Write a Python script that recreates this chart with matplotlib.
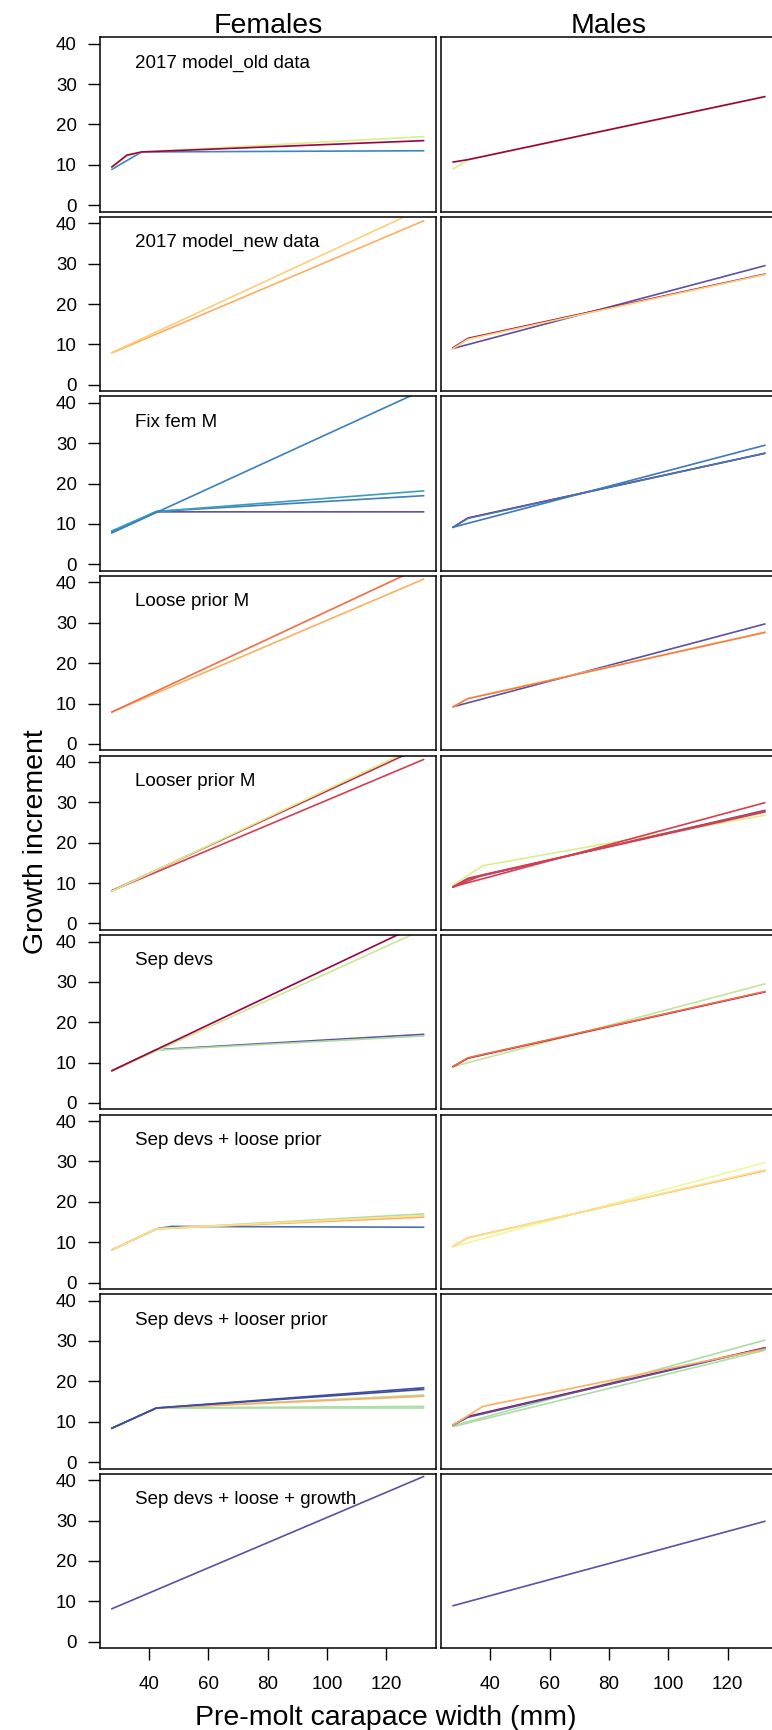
import matplotlib
matplotlib.use("Agg")
import matplotlib.pyplot as plt

plt.rcParams['font.family'] = ['Liberation Sans', 'DejaVu Sans']

# labels
scenarios = ['2017 model_old data', '2017 model_new data', 'Fix fem M', 'Loose prior M',
             'Looser prior M', 'Sep devs', 'Sep devs + loose prior',
             'Sep devs + looser prior', 'Sep devs + loose + growth']
sexes = ['Females', 'Males']
xticks = [40, 60, 80, 100, 120]
yticks = [0, 10, 20, 30, 40]

# size bins where the growth curves bend (mm)
x_lin = [27.5, 132.5]
x_k32 = [27.5, 32.5, 132.5]
x_k37 = [27.5, 37.5, 132.5]
x_k42 = [27.5, 42.5, 132.5]
x_old = [27.5, 32.5, 37.5, 132.5]
x_k47 = [27.5, 42.5, 47.5, 132.5]

# colours (Spectral-like)
maroon = '#9E0142'
red = '#D53E4F'
orange = '#F46D43'
lorange = '#FDAE61'
yellow = '#FDCF7A'
ygreen = '#D9EF8B'
lgreen = '#ABDDA4'
blue = '#3A86C0'
purple = '#5E4FA2'

# females, one list per scenario: x grid, increments, colours
f1_x = [x_k37, x_old, x_old]
f1_y = [[8.9, 13.2, 13.5], [9.3, 12.2, 13.2, 17.0], [9.5, 12.4, 13.2, 16.0]]
f1_c = [blue, ygreen, maroon]

f2_x = [x_lin, x_lin]
f2_y = [[7.9, 40.6], [8.0, 43.8]]
f2_c = [lorange, yellow]

f3_x = [x_k42, x_k42, x_k42, x_lin]
f3_y = [[7.9, 13.0, 13.0], [8.0, 13.1, 17.0], [8.3, 13.1, 18.2], [7.8, 43.2]]
f3_c = [purple, '#3F7DBE', '#3A9DC0', '#3C7FBF']

f4_x = [x_lin, x_lin]
f4_y = [[7.9, 40.8], [7.9, 44.0]]
f4_c = [lorange, orange]

f5_x = [x_lin, x_lin, x_lin]
f5_y = [[8.1, 43.9], [8.1, 40.6], [8.0, 44.5]]
f5_c = ['#C42A4A', red, ygreen]

f6_x = [x_k42, x_k42, x_lin, x_lin]
f6_y = [[8.0, 13.2, 17.0], [8.0, 13.1, 16.6], [7.9, 43.0], [8.0, 44.7]]
f6_c = [purple, lgreen, '#C9E88F', maroon]

f7_x = [x_k47, x_k42, x_k42, x_k42]
f7_y = [[8.1, 13.3, 13.9, 13.7], [8.1, 13.3, 17.0], [8.1, 13.3, 16.2], [8.1, 13.3, 16.6]]
f7_c = ['#4A6DB5', lgreen, lorange, '#FEE08B']

f8_x = [x_k42, x_k42, x_k42, x_k42, x_k42, x_k42]
f8_y = [[8.4, 13.4, 13.4], [8.4, 13.4, 13.8], [8.4, 13.4, 16.6], [8.4, 13.4, 16.3],
        [8.4, 13.4, 18.0], [8.4, 13.4, 18.4]]
f8_c = [lgreen, lgreen, lgreen, lorange, '#3F4DA0', '#3F4DA0']

f9_x = [x_lin]
f9_y = [[8.15, 40.9]]
f9_c = [purple]

# males
m1_x = [x_k32, x_k32]
m1_y = [[9.0, 11.2, 26.8], [10.7, 11.3, 26.9]]
m1_c = [ygreen, maroon]

m2_x = [x_lin, x_k32, x_k32]
m2_y = [[9.0, 29.5], [9.2, 11.5, 27.4], [9.0, 11.3, 27.3]]
m2_c = [purple, maroon, yellow]

m3_x = [x_k32, x_k32, x_lin]
m3_y = [[9.2, 11.5, 27.5], [9.2, 11.4, 27.5], [9.2, 29.5]]
m3_c = [maroon, '#3E78BA', '#3E78BA']

m4_x = [x_lin, x_k32, x_k32]
m4_y = [[9.2, 29.7], [9.2, 11.3, 27.7], [9.2, 11.2, 27.6]]
m4_c = [purple, '#FEE08B', '#F67A45']

m5_x = [x_k37, x_k32, x_k32, x_k37, x_lin]
m5_y = [[9.5, 14.3, 26.8], [9.0, 11.0, 28.0], [9.1, 11.2, 27.8], [9.0, 12.0, 27.6], [9.1, 29.9]]
m5_c = [ygreen, purple, red, red, red]

m6_x = [x_lin, x_k32, x_k32]
m6_y = [[9.0, 29.5], [9.0, 11.1, 27.5], [9.1, 11.2, 27.6]]
m6_c = ['#C2E59A', maroon, orange]

m7_x = [x_lin, x_k32, x_k32]
m7_y = [[8.9, 29.7], [9.0, 11.1, 27.7], [9.0, 11.0, 27.9]]
m7_c = ['#EDF7A0', lorange, '#FEE08B']

m8_x = [x_lin, x_lin, x_k32, x_k32, x_k37]
m8_y = [[8.8, 27.7], [9.0, 30.2], [9.2, 11.3, 28.3], [9.2, 11.1, 28.2], [9.2, 13.8, 28.0]]
m8_c = [lgreen, lgreen, maroon, purple, lorange]

m9_x = [x_lin]
m9_y = [[8.9, 29.8]]
m9_c = [purple]

fem_x = [f1_x, f2_x, f3_x, f4_x, f5_x, f6_x, f7_x, f8_x, f9_x]
fem_y = [f1_y, f2_y, f3_y, f4_y, f5_y, f6_y, f7_y, f8_y, f9_y]
fem_c = [f1_c, f2_c, f3_c, f4_c, f5_c, f6_c, f7_c, f8_c, f9_c]
mal_x = [m1_x, m2_x, m3_x, m4_x, m5_x, m6_x, m7_x, m8_x, m9_x]
mal_y = [m1_y, m2_y, m3_y, m4_y, m5_y, m6_y, m7_y, m8_y, m9_y]
mal_c = [m1_c, m2_c, m3_c, m4_c, m5_c, m6_c, m7_c, m8_c, m9_c]


W, H = 772, 1730
fig = plt.figure(figsize=(W / 100, H / 100), dpi=100)

top0 = 37.3
pitch = 179.55
ph = 174.4
pw = 336.5
lefts = [99.5, 440.7]

for r in range(9):
    top = top0 + r * pitch
    for s in range(2):
        ax = fig.add_axes([lefts[s] / W, 1 - (top + ph) / H, pw / W, ph / H])
        if s == 0:
            xs, ys, cs = fem_x[r], fem_y[r], fem_c[r]
        else:
            xs, ys, cs = mal_x[r], mal_y[r], mal_c[r]
        for xx, yy, cc in zip(xs, ys, cs):
            ax.plot(xx, yy, color=cc, lw=1.2)

        ax.set_xlim(23.3, 136.7)
        ax.set_ylim(-1.6, 41.6)
        for sp in ax.spines.values():
            sp.set_linewidth(1.1)

        ax.set_yticks(yticks)
        ax.set_xticks(xticks)
        ax.tick_params(axis='y', length=8.4, width=1.0, direction='out', pad=8,
                       labelsize=13.5, left=(s == 0), labelleft=(s == 0))
        ax.tick_params(axis='x', length=8.9, width=1.0, direction='out', pad=11,
                       labelsize=13.5, bottom=(r == 8), labelbottom=(r == 8))

        if s == 0:
            ax.text(0.1055, 0.8257, scenarios[r], transform=ax.transAxes,
                    fontsize=13.5, ha='left', va='baseline')

fig.text(268 / W, 1 - 33.3 / H, sexes[0], ha='center', va='baseline', fontsize=20.5)
fig.text(608.7 / W, 1 - 33.3 / H, sexes[1], ha='center', va='baseline', fontsize=20.5)
fig.text(0.5, 1 - 1725 / H, 'Pre-molt carapace width (mm)', ha='center', va='baseline',
         fontsize=20.5)
fig.text(36 / W, 1 - 842 / H, 'Growth increment', rotation=90, ha='center', va='center',
         fontsize=20.5)

fig.savefig('out.png', dpi=100)
